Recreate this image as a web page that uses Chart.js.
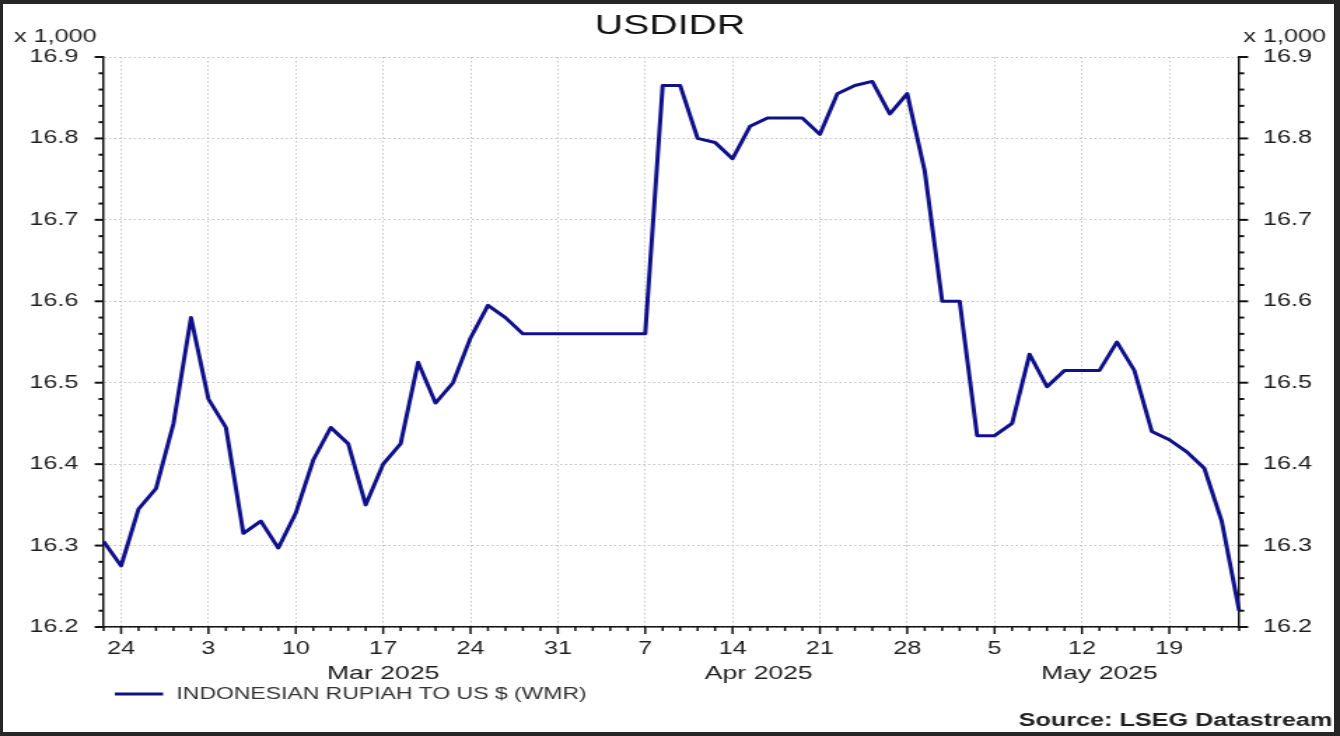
<!DOCTYPE html>
<html>
<head>
<meta charset="utf-8">
<script src="https://cdn.jsdelivr.net/npm/chart.js@4.4.1/dist/chart.umd.min.js"></script>
<style>
  html, body { margin: 0; padding: 0; background: #fff; }
  #wrap { position: relative; width: 1340px; height: 736px; overflow: hidden; }
  #chart { position: absolute; left: 0; top: 0; }
  #frame { position: absolute; left: 0; top: 0; width: 1340px; height: 736px; box-sizing: border-box;
           border-style: solid; border-color: #262626; border-width: 4px 6px 4px 3px; pointer-events: none; }
</style>
</head>
<body>
<div id="wrap">
  <!-- drawn narrow and stretched sideways, like the Datastream export -->
  <canvas id="chart" width="957" height="736" style="width:1340px;height:736px"></canvas>
  <div id="frame"></div>
</div>
<script>
// business days shown on the axis
const dates = [
  '2025-02-21',
  '2025-02-24','2025-02-25','2025-02-26','2025-02-27','2025-02-28',
  '2025-03-03','2025-03-04','2025-03-05','2025-03-06','2025-03-07',
  '2025-03-10','2025-03-11','2025-03-12','2025-03-13','2025-03-14',
  '2025-03-17','2025-03-18','2025-03-19','2025-03-20','2025-03-21',
  '2025-03-24','2025-03-25','2025-03-26','2025-03-27','2025-03-28',
  '2025-03-31','2025-04-01','2025-04-02','2025-04-03','2025-04-04',
  '2025-04-07','2025-04-08','2025-04-09','2025-04-10','2025-04-11',
  '2025-04-14','2025-04-15','2025-04-16','2025-04-17','2025-04-18',
  '2025-04-21','2025-04-22','2025-04-23','2025-04-24','2025-04-25',
  '2025-04-28','2025-04-29','2025-04-30','2025-05-01','2025-05-02',
  '2025-05-05','2025-05-06','2025-05-07','2025-05-08','2025-05-09',
  '2025-05-12','2025-05-13','2025-05-14','2025-05-15','2025-05-16',
  '2025-05-19','2025-05-20','2025-05-21','2025-05-22','2025-05-23'
];

// IDR per USD
const usdidr = [
  16305,
  16275, 16345, 16370, 16450, 16580,
  16480, 16445, 16315, 16330, 16297,
  16340, 16405, 16445, 16425, 16350,
  16400, 16425, 16525, 16475, 16500,
  16555, 16595, 16580, 16560, 16560,
  16560, 16560, 16560, 16560, 16560,
  16560, 16865, 16865, 16800, 16795,
  16775, 16815, 16825, 16825, 16825,
  16805, 16855, 16865, 16870, 16830,
  16855, 16760, 16600, 16600, 16435,
  16435, 16450, 16535, 16495, 16515,
  16515, 16515, 16550, 16515, 16440,
  16430, 16415, 16395, 16330, 16220
];

const monthKeys = ['2025-03', '2025-04', '2025-05'];
const monthLabels = ['Mar 2025', 'Apr 2025', 'May 2025'];

const seriesName = 'INDONESIAN RUPIAH TO US $ (WMR)';
const titleText = 'USDIDR';
const unitText = 'x 1,000';
const sourceText = 'Source: LSEG Datastream';

const yMin = 16200, yMax = 16900, yStep = 20, yLabelStep = 100;

const FONT = "'Liberation Sans', Arial, sans-serif";
const lineColor = '#10108a';
const gridColor = '#c2c2c2';
const axisColor = '#111';
const textColor = '#1e1e1e';

const isMonday = i => new Date(dates[i] + 'T12:00:00Z').getUTCDay() === 1;
const isMajorY = v => v % yLabelStep === 0;

Chart.defaults.font.family = FONT;
Chart.defaults.color = textColor;

// tick marks (long on Mondays / whole tenths), month names, legend, source
const extras = {
  id: 'extras',
  afterDraw(chart) {
    const {ctx} = chart;
    const xs = chart.scales.x, yl = chart.scales.y, yr = chart.scales.y2;
    ctx.save();
    ctx.strokeStyle = axisColor;

    ctx.lineWidth = 1.5;
    xs.ticks.forEach((t, i) => {
      const px = xs.getPixelForTick(i);
      const len = isMonday(i) ? 7 : 4;
      ctx.beginPath(); ctx.moveTo(px, xs.top); ctx.lineTo(px, xs.top + len); ctx.stroke();
    });
    ctx.lineWidth = 2;
    [[yl, -1], [yr, 1]].forEach(([s, dir]) => {
      const x0 = dir < 0 ? s.right : s.left;
      s.ticks.forEach((t, i) => {
        const py = s.getPixelForTick(i);
        const len = isMajorY(t.value) ? 6.4 : 3.6;
        ctx.beginPath(); ctx.moveTo(x0, py); ctx.lineTo(x0 + dir * len, py); ctx.stroke();
      });
    });

    ctx.fillStyle = textColor;
    ctx.textBaseline = 'middle';
    ctx.font = '18px ' + FONT;
    ctx.textAlign = 'right';
    ctx.fillText(unitText, 69, 37);
    ctx.textAlign = 'left';
    ctx.fillText(unitText, 888, 37);

    ctx.font = '19px ' + FONT;
    ctx.textAlign = 'center';
    monthKeys.forEach((key, m) => {
      const idx = dates.map((d, i) => d.startsWith(key) ? i : -1).filter(i => i >= 0);
      const a = xs.getPixelForValue(idx[0]);
      const b = xs.getPixelForValue(idx[idx.length - 1]);
      ctx.fillText(monthLabels[m], (a + b) / 2, 674);
    });

    const ds = chart.data.datasets[0];
    ctx.strokeStyle = ds.borderColor;
    ctx.lineWidth = 3;
    ctx.beginPath(); ctx.moveTo(82, 694); ctx.lineTo(116.5, 694); ctx.stroke();
    ctx.font = '16.4px ' + FONT;
    ctx.fillStyle = '#333';
    ctx.textAlign = 'left';
    ctx.fillText(ds.label, 126, 694);

    ctx.font = 'bold 18px ' + FONT;
    ctx.fillStyle = '#222';
    ctx.textAlign = 'right';
    ctx.fillText(sourceText, 951.5, 721);
    ctx.restore();
  }
};

new Chart(document.getElementById('chart'), {
  type: 'line',
  data: {
    labels: dates,
    datasets: [{
      label: seriesName,
      data: usdidr,
      borderColor: lineColor,
      borderWidth: 3,
      borderJoinStyle: 'round',
      pointRadius: 0,
      tension: 0,
      fill: false
    }]
  },
  options: {
    responsive: false,
    devicePixelRatio: 1,
    animation: false,
    events: [],
    layout: { padding: 0 },
    plugins: {
      legend: { display: false },
      tooltip: { enabled: false },
      title: {
        display: true,
        text: titleText,
        color: '#111',
        font: { size: 28, weight: 'normal' },
        padding: { top: 9, bottom: 14.4 }
      }
    },
    scales: {
      x: {
        type: 'category',
        offset: false,
        afterFit: s => { s.height = 109; },
        grid: {
          drawTicks: false,
          lineWidth: 1,
          color: c => isMonday(c.index) ? gridColor : 'rgba(0,0,0,0)'
        },
        border: { display: true, color: axisColor, width: 1.6, dash: [1.5, 2.5] },
        ticks: {
          autoSkip: false,
          maxRotation: 0,
          padding: 11,
          font: { size: 18 },
          color: textColor,
          callback: (v, i) => isMonday(i) ? String(Number(dates[i].slice(8))) : ''
        }
      },
      y: {
        position: 'left',
        min: yMin,
        max: yMax,
        afterFit: s => { s.width = 74; },
        grid: {
          drawTicks: false,
          lineWidth: 1,
          color: c => isMajorY(c.tick.value) ? gridColor : 'rgba(0,0,0,0)'
        },
        border: { display: true, color: axisColor, width: 1.5, dash: [1.5, 2] },
        ticks: {
          stepSize: yStep,
          autoSkip: false,
          padding: 18,
          font: { size: 18 },
          color: textColor,
          callback: v => isMajorY(v) ? (v / 1000).toFixed(1) : ''
        }
      },
      y2: {
        position: 'right',
        min: yMin,
        max: yMax,
        afterFit: s => { s.width = 72; },
        grid: { drawOnChartArea: false, drawTicks: false },
        border: { display: true, color: axisColor, width: 1.5 },
        ticks: {
          stepSize: yStep,
          autoSkip: false,
          padding: 17,
          font: { size: 18 },
          color: textColor,
          callback: v => isMajorY(v) ? (v / 1000).toFixed(1) : ''
        }
      }
    }
  },
  plugins: [extras]
});
</script>
</body>
</html>
